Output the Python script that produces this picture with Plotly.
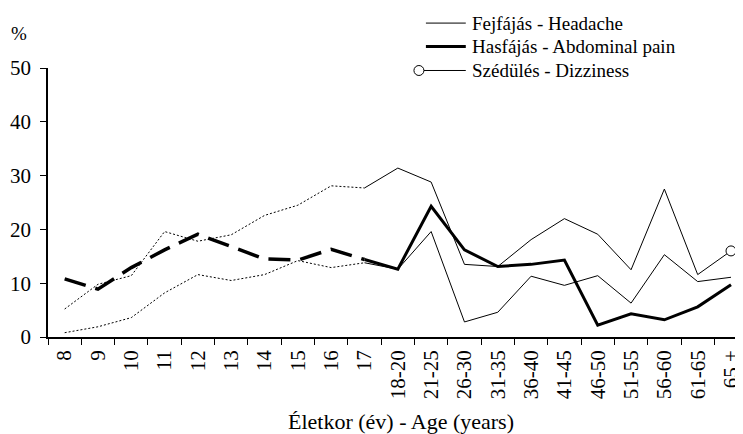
import plotly.graph_objects as go

categories = ["8", "9", "10", "11", "12", "13", "14", "15", "16", "17",
              "18-20", "21-25", "26-30", "31-35", "36-40", "41-45",
              "46-50", "51-55", "56-60", "61-65", "65 +"]
headache = [5.2, 9.8, 11.4, 19.6, 17.8, 19.0, 22.6, 24.5, 28.1, 27.7,
            31.4, 28.8, 13.5, 13.1, 18.1, 22.0, 19.1, 12.5, 27.5, 11.6, 16.0]
abdominal = [10.8, 8.9, 12.9, 16.2, 19.1, 16.8, 14.5, 14.3, 16.3, 14.4,
             12.6, 24.3, 16.2, 13.1, 13.5, 14.3, 2.2, 4.3, 3.2, 5.6, 9.7]
dizziness = [0.8, 1.9, 3.6, 8.2, 11.6, 10.5, 11.6, 14.2, 12.9, 13.8,
             12.6, 19.6, 2.8, 4.6, 11.3, 9.6, 11.4, 6.3, 15.3, 10.3, 11.1]
y_ticks = [0, 10, 20, 30, 40, 50]
names = ["Fejfájás - Headache", "Hasfájás - Abdominal pain", "Szédülés - Dizziness"]

CHILD = slice(0, 10)   # 8 .. 17
ADULT = slice(9, 21)   # 17 .. 65 +

FONT = "Liberation Serif"
OFF = 8  # page body margin
fig = go.Figure()

fig.add_trace(go.Scatter(x=categories[CHILD], y=headache[CHILD], mode="lines",
                         line=dict(color="black", width=1, dash="2px,2px"),
                         name=names[0], showlegend=False))
fig.add_trace(go.Scatter(x=categories[CHILD], y=dizziness[CHILD], mode="lines",
                         line=dict(color="black", width=1, dash="2px,2px"),
                         name=names[2], showlegend=False))
fig.add_trace(go.Scatter(x=categories[CHILD], y=abdominal[CHILD], mode="lines",
                         line=dict(color="black", width=3.5, dash="22px,10px"),
                         name=names[1], showlegend=False))
fig.add_trace(go.Scatter(x=categories[ADULT], y=dizziness[ADULT], mode="lines",
                         line=dict(color="black", width=1),
                         name=names[2], showlegend=False))
fig.add_trace(go.Scatter(x=categories[ADULT], y=headache[ADULT], mode="lines",
                         line=dict(color="black", width=1),
                         name=names[0], showlegend=False))
fig.add_trace(go.Scatter(x=categories[ADULT], y=abdominal[ADULT], mode="lines",
                         line=dict(color="black", width=3),
                         name=names[1], showlegend=False))
fig.add_trace(go.Scatter(x=categories[-1:], y=headache[-1:], mode="markers",
                         marker=dict(symbol="circle", size=10, color="white",
                                     line=dict(color="black", width=1)),
                         showlegend=False, cliponaxis=False))

L, W, T, H = 48, 695, 68, 269.5
def px(x):
    return (x - L) / W
def py(y):
    return (T + H - y) / H

leg_rows = [23, 46.5, 70.5]
shapes = []
annotations = []
for i, (nm, yy) in enumerate(zip(names, leg_rows)):
    width = 3 if i == 1 else 1
    x0 = 425 if i == 2 else 427
    shapes.append(dict(type="line", xref="paper", yref="paper",
                       x0=px(x0), x1=px(467), y0=py(yy), y1=py(yy),
                       line=dict(color="black", width=width)))
    annotations.append(dict(text=nm, xref="paper", yref="paper",
                            x=px(471), y=py(yy), xanchor="left", yanchor="middle",
                            showarrow=False, font=dict(family=FONT, size=19, color="black")))
shapes.append(dict(type="circle", xref="paper", yref="paper",
                   x0=px(415), x1=px(425), y0=py(leg_rows[2] - 5), y1=py(leg_rows[2] + 5),
                   fillcolor="white", line=dict(color="black", width=1)))

annotations.append(dict(text="%", xref="paper", yref="paper", x=px(18.5), y=py(33),
                        xanchor="center", yanchor="middle", showarrow=False,
                        font=dict(family=FONT, size=19, color="black")))
annotations.append(dict(text="Életkor (év) - Age (years)", xref="paper", yref="paper",
                        x=px(402), y=py(422), xanchor="center", yanchor="middle",
                        showarrow=False, font=dict(family=FONT, size=22, color="black")))

fig.update_layout(
    width=743 - OFF, height=434 - OFF,
    margin=dict(l=L - OFF, r=0, t=T - OFF, b=434 - (T + H)),
    plot_bgcolor="white", paper_bgcolor="white",
    font=dict(family=FONT, size=20, color="black"),
    shapes=shapes, annotations=annotations,
    showlegend=False,
    xaxis=dict(type="category", categoryorder="array", categoryarray=categories,
               range=[-0.5, 20.3], showline=True, linecolor="black", linewidth=1.5,
               ticks="outside", tickson="boundaries", ticklen=6, tickcolor="black",
               tickangle=-90, showgrid=False, zeroline=False, ticklabelstandoff=3,
               tickfont=dict(family=FONT, size=21, color="black")),
    yaxis=dict(range=[0, 50], tickvals=y_ticks, showline=True, linecolor="black",
               linewidth=1.5, ticks="outside", ticklen=6, tickcolor="black",
               showgrid=False, zeroline=False, ticklabelstandoff=5,
               tickfont=dict(family=FONT, size=21, color="black")),
)

fig.write_html("out.html")
